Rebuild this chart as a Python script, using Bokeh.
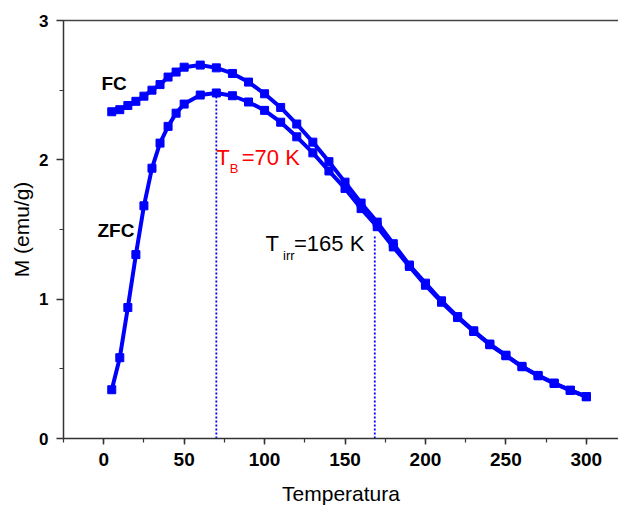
from bokeh.plotting import figure
from bokeh.models import LinearAxis, SingleIntervalTicker, FixedTicker, Label, Range1d
from bokeh.embed import file_html
from bokeh.resources import INLINE

# Data
temperature = [5, 10, 15, 20, 25, 30, 35, 40, 45, 50, 60, 70, 80, 90, 100, 110, 120, 130,
               140, 150, 160, 170, 180, 190, 200, 210, 220, 230, 240, 250, 260, 270, 280, 290, 300]
m_zfc = [0.35, 0.58, 0.94, 1.32, 1.67, 1.94, 2.12, 2.24, 2.335, 2.40, 2.465, 2.48, 2.46, 2.415,
         2.355, 2.27, 2.165, 2.05, 1.92, 1.795, 1.65, 1.52, 1.375, 1.235, 1.10, 0.978, 0.868,
         0.768, 0.673, 0.594, 0.515, 0.45, 0.395, 0.345, 0.30]
m_fc = [2.345, 2.36, 2.39, 2.42, 2.457, 2.50, 2.54, 2.594, 2.63, 2.665, 2.68, 2.66, 2.62, 2.558,
        2.474, 2.376, 2.257, 2.127, 1.987, 1.84, 1.69, 1.553, 1.398, 1.245, 1.115, 0.988, 0.875,
        0.773, 0.678, 0.598, 0.518, 0.453, 0.398, 0.347, 0.30]
marker_x = [70, 168.5]
marker_top = [2.48, 1.46]

FONT = "Liberation Sans"
BLUE = "#0000ff"

p = figure(width=618, height=509, x_range=Range1d(-25, 320), y_range=Range1d(0, 3),
           output_backend="svg", toolbar_location=None,
           min_border_left=63, min_border_right=0, min_border_top=20, min_border_bottom=71,
           x_axis_label="Temperatura", y_axis_label="M (emu/g)")
p.outline_line_color = None
p.xgrid.visible = False
p.ygrid.visible = False
p.background_fill_color = "white"

p.xaxis.ticker = SingleIntervalTicker(interval=50, num_minor_ticks=2)
p.yaxis.ticker = SingleIntervalTicker(interval=1, num_minor_ticks=2)

for ax, tick_out, minor_out, lab_size, stand in ((p.xaxis, 6, 4, "19px", 8), (p.yaxis, 7, 4, "17px", 8)):
    ax.axis_line_color = "#333333"
    ax.axis_line_width = 1.5
    ax.major_tick_line_color = "#333333"
    ax.minor_tick_line_color = "#333333"
    ax.major_tick_line_width = 1.5
    ax.minor_tick_line_width = 1.2
    ax.major_tick_in = 0
    ax.major_tick_out = tick_out
    ax.minor_tick_in = 0
    ax.minor_tick_out = minor_out
    ax.major_label_text_font = FONT
    ax.major_label_text_font_style = "bold"
    ax.major_label_text_font_size = lab_size
    ax.major_label_text_color = "black"
    ax.major_label_standoff = stand
    ax.axis_label_text_font = FONT
    ax.axis_label_text_font_style = "normal"
    ax.axis_label_text_font_size = "21px"
    ax.axis_label_text_color = "black"

p.xaxis.axis_label_standoff = 13
p.yaxis.axis_label_standoff = 3

top = LinearAxis(ticker=FixedTicker(ticks=[]), major_label_text_font_size="0px",
                 axis_line_color="#444444", axis_line_width=1.5,
                 major_tick_line_color=None, minor_tick_line_color=None)
p.add_layout(top, "above")

# dotted markers for T_B and T_irr
p.segment(x0=marker_x, y0=[0, 0], x1=marker_x, y1=marker_top,
          line_color=BLUE, line_width=1.8, line_dash="2 2")

p.line(temperature, m_zfc, line_color=BLUE, line_width=4)
p.scatter(temperature, m_zfc, marker="square", size=8, fill_color=BLUE, line_color=BLUE)
p.line(temperature, m_fc, line_color=BLUE, line_width=4)
p.scatter(temperature, m_fc, marker="square", size=8, fill_color=BLUE, line_color=BLUE)

def lab(x, y, t, size, color="black", style="normal"):
    p.add_layout(Label(x=x, y=y, text=t, text_font=FONT, text_font_size=size,
                       text_color=color, text_font_style=style, text_baseline="middle",
                       text_align="left"))

lab(-1.4, 2.55, "FC", "19px", style="bold")
lab(-3.9, 1.49, "ZFC", "19px", style="bold")
lab(70.0, 2.02, "T", "22px", color="#ff0000")
lab(78.4, 1.94, "B", "13px", color="#ff0000")
lab(85.8, 2.02, "=70 K", "22px", color="#ff0000")
lab(100.5, 1.396, "T", "22px")
lab(111.5, 1.31, "irr", "13px")
lab(118.3, 1.396, "=165 K", "22px")

open("out.html", "w").write(file_html(p, INLINE))
